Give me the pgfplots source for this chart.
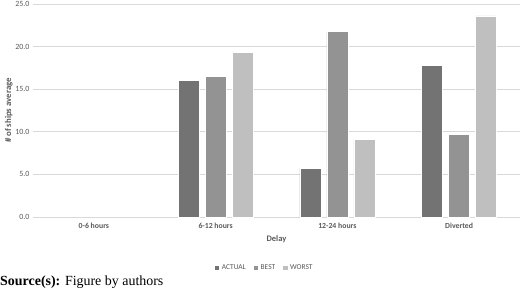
\documentclass[border=0pt]{standalone}
\usepackage{fontspec}
\setmainfont{Carlito}
\newfontfamily\srcfont{Liberation Serif}
\usepackage{pgfplots}
\pgfplotsset{compat=1.18}
\definecolor{cA}{HTML}{737373}
\definecolor{cB}{HTML}{939393}
\definecolor{cC}{HTML}{BFBFBF}
\definecolor{gridc}{HTML}{D9D9D9}
\definecolor{txt}{HTML}{595959}
\begin{document}
\begin{tikzpicture}
\useasboundingbox (0,0) rectangle (520bp,289bp);
\begin{axis}[
  at={(33bp,72bp)}, anchor=south west,
  scale only axis, width=487bp, height=213bp,
  xmin=-0.5, xmax=3.5, ymin=0, ymax=25,
  ybar=6bp, bar width=21bp,
  xtick={0,1,2,3},
  xticklabels={0-6 hours,6-12 hours,12-24 hours,Diverted},
  ytick={0,5,10,15,20,25},
  /pgf/number format/assume math mode=true,
  yticklabel style={/pgf/number format/fixed,/pgf/number format/fixed zerofill,/pgf/number format/precision=1,
    font=\fontsize{8}{9}\selectfont, text=txt},
  xticklabel style={font=\fontsize{7.8}{9}\selectfont\bfseries, text=txt, yshift=-3bp},
  ymajorgrids, grid style={gridc, line width=0.8pt},
  axis line style={draw=none},
  major tick length=0pt,
  xlabel={Delay}, xlabel style={font=\fontsize{8.5}{9}\selectfont\bfseries, text=txt, yshift=0bp},
  ylabel={\# of ships average}, ylabel style={font=\fontsize{8.8}{9}\selectfont\bfseries, text=txt, yshift=-4bp},
  legend style={at={(0.475,-0.205)}, anchor=north, draw=none, legend columns=3,
    font=\fontsize{7.5}{8}\selectfont, text=txt,
    /tikz/every even column/.append style={column sep=5bp}},
  legend image code/.code={\fill[#1] (0bp,-2.6bp) rectangle (5.2bp,2.6bp);},
  clip=false,
]
\addplot[fill=cA, draw=white, line width=0.6pt] coordinates {(1,16.0) (2,5.7) (3,17.75)};
\addplot[fill=cB, draw=white, line width=0.6pt] coordinates {(1,16.5) (2,21.75) (3,9.7)};
\addplot[fill=cC, draw=white, line width=0.6pt] coordinates {(1,19.3) (2,9.1) (3,23.6)};
\legend{ACTUAL,BEST,WORST}
\end{axis}
\node[anchor=base west, inner sep=0pt, font=\srcfont\fontsize{14}{16}\selectfont] at (0bp,4bp) {\textbf{Source(s):} Figure by authors};
\end{tikzpicture}
\end{document}
